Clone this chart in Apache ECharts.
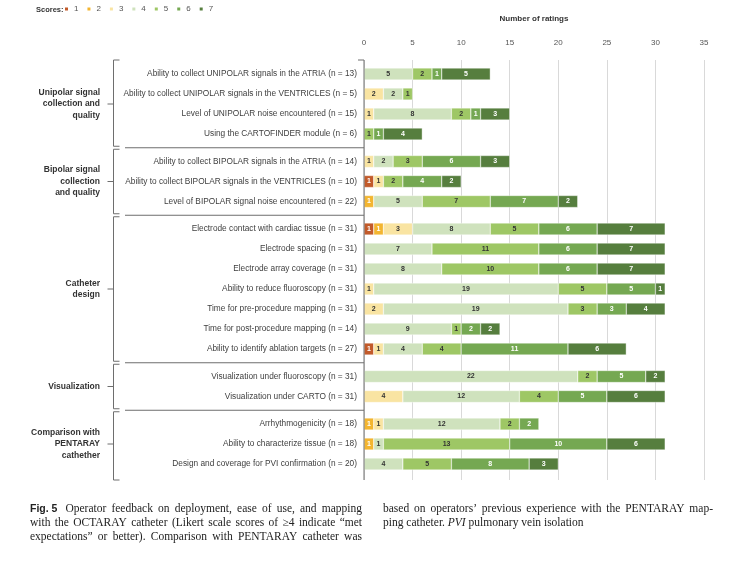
<!DOCTYPE html>
<html>
<head>
<meta charset="utf-8">
<script src="https://cdn.jsdelivr.net/npm/echarts@6/dist/echarts.min.js"></script>
<style>html,body{margin:0;padding:0;background:#fff}#c{width:744px;height:569px}</style>
</head>
<body>
<div id="c"></div>
<script>
const categories = [
  'Ability to collect UNIPOLAR signals in the ATRIA (n = 13)',
  'Ability to collect UNIPOLAR signals in the VENTRICLES (n = 5)',
  'Level of UNIPOLAR noise encountered (n = 15)',
  'Using the CARTOFINDER module (n = 6)',
  'Ability to collect BIPOLAR signals in the ATRIA (n = 14)',
  'Ability to collect BIPOLAR signals in the VENTRICLES (n = 10)',
  'Level of BIPOLAR signal noise encountered (n = 22)',
  'Electrode contact with cardiac tissue (n = 31)',
  'Electrode spacing (n = 31)',
  'Electrode array coverage (n = 31)',
  'Ability to reduce fluoroscopy (n = 31)',
  'Time for pre-procedure mapping (n = 31)',
  'Time for post-procedure mapping (n = 14)',
  'Ability to identify ablation targets (n = 27)',
  'Visualization under fluoroscopy (n = 31)',
  'Visualization under CARTO (n = 31)',
  'Arrhythmogenicity (n = 18)',
  'Ability to characterize tissue (n = 18)',
  'Design and coverage for PVI confirmation (n = 20)'
];
const groupNames = [
  'Unipolar signal\ncollection and\nquality',
  'Bipolar signal\ncollection\nand quality',
  'Catheter\ndesign',
  'Visualization',
  'Comparison with\nPENTARAY\ncathether'
];
const groupSizes = [4, 3, 7, 2, 3];
const scoreNames = ['1', '2', '3', '4', '5', '6', '7'];
const score1 = [null,null,null,null,null,1,null,1,null,null,null,null,null,1,null,null,null,null,null];
const score2 = [null,null,null,null,null,null,1,1,null,null,null,null,null,null,null,null,1,1,null];
const score3 = [null,2,1,null,1,1,null,3,null,null,1,2,null,1,null,4,1,null,null];
const score4 = [5,2,8,null,2,null,5,8,7,8,19,19,9,4,22,12,12,1,4];
const score5 = [2,1,2,1,3,2,7,5,11,10,5,3,1,4,2,4,2,13,5];
const score6 = [1,null,1,1,6,4,7,6,6,6,5,3,2,11,5,5,2,10,8];
const score7 = [5,null,3,4,3,2,2,7,7,7,1,4,2,6,2,6,null,6,3];
const xTicks = [0, 5, 10, 15, 20, 25, 30, 35];

const scores = [score1, score2, score3, score4, score5, score6, score7];
const colors = ['#c25a2a', '#f3b530', '#f9e4a2', '#cfe2bd', '#9ec765', '#75a852', '#567e3e'];
const labelColors = ['#fff', '#fff', '#333', '#333', '#333', '#fff', '#fff'];
const FONT = 'Liberation Sans';
const SERIF = 'Liberation Serif';

const chart = echarts.init(document.getElementById('c'), null, { renderer: 'canvas' });

const LEFT = 364, RIGHT = 40, ROW = 20, GAP = 7.5, TOP0 = 64;
const BOX_TOP = 60, BOX_BOTTOM = 480;
const grids = [{ left: LEFT, right: RIGHT, top: BOX_TOP, bottom: 569 - BOX_BOTTOM }];
const xAxes = [{
  gridIndex: 0, type: 'value', position: 'top', min: xTicks[0], max: xTicks[xTicks.length - 1],
  interval: xTicks[1] - xTicks[0],
  name: 'Number of ratings', nameLocation: 'middle', nameGap: 37,
  nameTextStyle: { fontFamily: FONT, fontSize: 8, fontWeight: 'bold', color: '#333' },
  axisLine: { show: false }, axisTick: { show: false },
  axisLabel: { fontFamily: FONT, fontSize: 8, color: '#555', margin: 13 },
  splitLine: { show: true, lineStyle: { color: '#d9d9d9', width: 1 } }
}];
const yAxes = [{ gridIndex: 0, type: 'value', show: false }];
const series = [];
const graphics = [];

let curTop = TOP0, start = 0;
const groupCenters = [], seps = [];
groupSizes.forEach((n, g) => {
  const h = n * ROW;
  grids.push({ left: LEFT, right: RIGHT, top: curTop, height: h });
  xAxes.push({ gridIndex: g + 1, type: 'value', min: xTicks[0], max: xTicks[xTicks.length - 1], show: false });
  yAxes.push({
    gridIndex: g + 1, type: 'category', inverse: true,
    data: categories.slice(start, start + n),
    axisLine: { show: false }, axisTick: { show: false },
    axisLabel: { fontFamily: FONT, fontSize: 8.3, color: '#404040', margin: 7 }
  });
  scores.forEach((arr, k) => {
    series.push({
      type: 'bar', name: scoreNames[k], xAxisIndex: g + 1, yAxisIndex: g + 1, stack: 'g' + g,
      barWidth: 12, data: arr.slice(start, start + n),
      itemStyle: { color: colors[k], borderColor: '#fff', borderWidth: 0.4 },
      label: {
        show: true, position: 'inside', fontFamily: FONT, fontSize: 7, fontWeight: 'bold',
        color: labelColors[k], formatter: p => (p.value == null ? '' : p.value)
      },
      emphasis: { disabled: true }
    });
  });
  groupCenters.push(curTop + h / 2);
  if (g < groupSizes.length - 1) seps.push(curTop + h + GAP / 2);
  curTop += h + GAP;
  start += n;
});

const lineCol = '#6e6e6e';
function line(x1, y1, x2, y2) {
  graphics.push({ type: 'line', shape: { x1, y1, x2, y2 }, style: { stroke: lineCol, lineWidth: 1 }, silent: true, z: 10 });
}
line(LEFT, BOX_TOP, LEFT, BOX_BOTTOM);
line(LEFT - 6, BOX_TOP, LEFT, BOX_TOP);
seps.forEach(y => line(125, y, LEFT, y));
const bounds = [BOX_TOP].concat(seps).concat([BOX_BOTTOM]);
const BX = 113.5;
for (let g = 0; g < groupSizes.length; g++) {
  const y1 = bounds[g] + (g === 0 ? 0 : 1.5);
  const y2 = bounds[g + 1] - (g === groupSizes.length - 1 ? 0 : 1.5);
  line(BX, y1, BX, y2);
  line(BX, y1, BX + 6, y1);
  line(BX, y2, BX + 6, y2);
  line(BX - 6, groupCenters[g], BX, groupCenters[g]);
  graphics.push({
    type: 'text', x: 100, y: groupCenters[g], silent: true,
    style: { text: groupNames[g], fontFamily: FONT, fontSize: 8.5, fontWeight: 'bold', fill: '#333',
      align: 'right', verticalAlign: 'middle', lineHeight: 11.5 }
  });
}
graphics.push({ type: 'text', x: 36, y: 10, silent: true,
  style: { text: 'Scores:', fontFamily: FONT, fontSize: 7.5, fontWeight: 'bold', fill: '#333', verticalAlign: 'middle' } });

// caption with justified lines
const measureCtx = document.createElement('canvas').getContext('2d');
const CAP_SIZE = 11.5;
function styleOf(tag) {
  if (tag === 'b') return { fontFamily: FONT, fontSize: 10.5, fontWeight: 'bold', fontStyle: 'normal' };
  if (tag === 'i') return { fontFamily: SERIF, fontSize: CAP_SIZE, fontWeight: 'normal', fontStyle: 'italic' };
  return { fontFamily: SERIF, fontSize: CAP_SIZE, fontWeight: 'normal', fontStyle: 'normal' };
}
function measure(text, st) {
  measureCtx.font = st.fontStyle + ' ' + st.fontWeight + ' ' + st.fontSize + 'px "' + st.fontFamily + '"';
  return measureCtx.measureText(text).width;
}
function captionLine(words, x0, x1, y, justify) {
  const items = words.map(w => {
    const tag = typeof w === 'string' ? '' : w[0];
    const text = typeof w === 'string' ? w : w[1];
    const st = styleOf(tag);
    return { text, st, w: measure(text, st) };
  });
  const sum = items.reduce((a, b) => a + b.w, 0);
  const space = measure(' ', styleOf(''));
  const gap = justify && items.length > 1 ? Math.max(1.5, (x1 - x0 - sum) / (items.length - 1)) : space;
  let x = x0;
  items.forEach(it => {
    graphics.push({ type: 'text', x: x, y: y, silent: true,
      style: Object.assign({ text: it.text, fill: '#222', verticalAlign: 'middle' }, it.st) });
    x += it.w + gap;
  });
}
const capLeft = [
  [['b', 'Fig. 5'], ' Operator', 'feedback', 'on', 'deployment,', 'ease', 'of', 'use,', 'and', 'mapping'],
  'with the OCTARAY catheter (Likert scale scores of \u22654 indicate \u201cmet'.split(' '),
  'expectations\u201d or better). Comparison with PENTARAY catheter was'.split(' ')
];
const capRight = [
  'based on operators\u2019 previous experience with the PENTARAY map-'.split(' '),
  ['ping', 'catheter.', ['i', 'PVI'], 'pulmonary', 'vein', 'isolation']
];
capLeft.forEach((ws, i) => captionLine(ws, 30, 362, 509 + i * 14.2, true));
capRight.forEach((ws, i) => captionLine(ws, 383, 713, 509 + i * 14.2, i === 0));

chart.setOption({
  animation: false,
  backgroundColor: '#fff',
  textStyle: { fontFamily: FONT },
  legend: {
    data: scoreNames, left: 63, top: 5, padding: 0, itemWidth: 5, itemHeight: 5, itemGap: 7,
    icon: 'rect', selectedMode: false,
    textStyle: { fontFamily: FONT, fontSize: 8, color: '#555' }
  },
  grid: grids,
  xAxis: xAxes,
  yAxis: yAxes,
  series: series,
  graphic: graphics
});
</script>
</body>
</html>
